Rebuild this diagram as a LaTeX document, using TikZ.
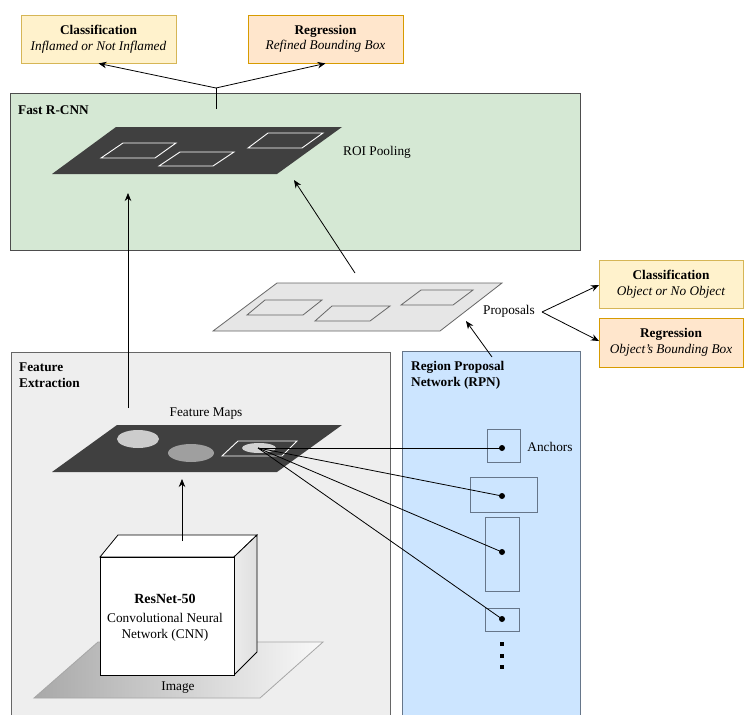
\documentclass[tikz,border=0pt]{standalone}
\usepackage{fontspec}
\setmainfont{Liberation Serif}
\usetikzlibrary{arrows.meta}
\definecolor{clsfill}{HTML}{FFF2CC}
\definecolor{clsdraw}{HTML}{D6B656}
\definecolor{regfill}{HTML}{FFE6CC}
\definecolor{regdraw}{HTML}{D79B00}
\definecolor{fastfill}{HTML}{D5E8D4}
\definecolor{fastdraw}{HTML}{4D4D4D}
\definecolor{featfill}{HTML}{EEEEEE}
\definecolor{featdraw}{HTML}{666666}
\definecolor{rpnfill}{HTML}{CCE5FF}
\definecolor{rpndraw}{HTML}{66768A}
\definecolor{darkmap}{HTML}{404040}
\definecolor{propfill}{HTML}{E6E6E6}
\tikzset{
  txt/.style={font=\fontsize{13.3}{16}\selectfont, inner sep=0pt, align=center},
  ttl/.style={font=\fontsize{13.3}{16}\selectfont\bfseries, inner sep=0pt, align=left, anchor=west},
  outbox/.style={draw=#1, line width=0.8pt, minimum width=155pt, minimum height=48pt, inner sep=0pt, align=center, font=\fontsize{13.3}{15.5}\selectfont},
  arr/.style={-{Stealth[length=8pt,width=6.5pt]}, line width=0.8pt},
  ln/.style={line width=0.8pt},
  anchorbox/.style={draw=rpndraw, line width=0.8pt, inner sep=0pt},
  dotn/.style={circle, fill=black, inner sep=0pt, minimum size=6pt},
  smalldot/.style={rectangle, fill=black, inner sep=0pt, minimum size=3.5pt},
}
\begin{document}
\begin{tikzpicture}[x=1pt,y=-1pt]
\useasboundingbox (0,0) rectangle (745,715);
\fill[white] (0,0) rectangle (745,715);

% ---------- containers ----------
\node[draw=fastdraw, fill=fastfill, line width=0.8pt, minimum width=570pt, minimum height=157pt, inner sep=0pt] (fast) at (295,171.5) {};
\fill[featfill] (11,352) rectangle (390,715);
\draw[featdraw, line width=0.8pt] (11,715) -- (11,352) -- (390,352) -- (390,715);
\fill[rpnfill] (402,351) rectangle (580,715);
\draw[rpndraw, line width=0.8pt] (402,715) -- (402,351) -- (580,351) -- (580,715);

\node[ttl] (fasttitle) at (18,110) {Fast R-CNN};
\node[ttl] (feattitle) at (19,375) {Feature\\Extraction};
\node[ttl] (rpntitle) at (411,375) {Region Proposal\\Network (RPN)};

% ---------- output boxes (top) ----------
\node[outbox=clsdraw, fill=clsfill] (cls1) at (98.5,39) {\textbf{Classification}\\\textit{Inflamed or Not Inflamed}};
\node[outbox=regdraw, fill=regfill] (reg1) at (325.5,39) {\textbf{Regression}\\\textit{Refined Bounding Box}};
\coordinate (J) at (216,88);
\coordinate (Jbot) at (216,109);
\draw[ln] (Jbot) -- (J);
\draw[arr] (J) -- (cls1.south);
\draw[arr] (J) -- (reg1.south);

% ---------- ROI pooling map ----------
\fill[darkmap] (52,174) -- (116,127) -- (342,127) -- (277,174) -- cycle;
\draw[white, line width=0.9pt] (101,158) -- (123,143) -- (176,143) -- (155,158) -- cycle;
\draw[white, line width=0.9pt] (159,166) -- (180,152) -- (234,152) -- (213,166) -- cycle;
\draw[white, line width=0.9pt] (248,148) -- (268,133) -- (323,133) -- (302,148) -- cycle;
\node[txt] (roi) at (377,152) {ROI Pooling};
\coordinate (roiin) at (294,180);
\coordinate (fmaptop) at (128,193);

% ---------- proposals ----------
\filldraw[fill=propfill, draw=featdraw, line width=0.8pt] (213,331) -- (277,283) -- (502,283) -- (440,331) -- cycle;
\draw[featdraw, line width=0.8pt] (247,315) -- (265,300) -- (322,300) -- (303,315) -- cycle;
\draw[featdraw, line width=0.8pt] (315,321) -- (332,306) -- (390,306) -- (370,321) -- cycle;
\draw[featdraw, line width=0.8pt] (401,305) -- (421,290) -- (473,290) -- (453,305) -- cycle;
\node[txt] (prop) at (509,311) {Proposals};
\coordinate (propout) at (355,273);
\coordinate (propin) at (466,321);
\coordinate (fork) at (542,312);
\draw[arr] (propout) -- (roiin);

% ---------- output boxes (right) ----------
\node[outbox=clsdraw, fill=clsfill, minimum width=144pt] (cls2) at (671,284) {\textbf{Classification}\\\textit{Object or No Object}};
\node[outbox=regdraw, fill=regfill, minimum width=144pt, minimum height=49pt] (reg2) at (671,342.5) {\textbf{Regression}\\\textit{Object's Bounding Box}};
\draw[arr] (fork) -- (599,285);
\draw[arr] (fork) -- (599,341);

% RPN -> proposals
\coordinate (rpnout) at (492,357);
\draw[arr] (rpnout) -- (propin);

% ---------- feature maps ----------
\node[txt] (fmlabel) at (206,414) {Feature Maps};
\fill[darkmap] (52,472) -- (117,425) -- (342,425) -- (277,472) -- cycle;
\fill[gray!40] (138,439) ellipse [x radius=21, y radius=9];
\fill[gray!75] (191,453) ellipse [x radius=23, y radius=9];
\draw[white, line width=0.9pt] (222,456) -- (238,441) -- (297,441) -- (282,456) -- cycle;
\fill[gray!35] (259,448) ellipse [x radius=17, y radius=5];
\coordinate (S) at (258,448);
\coordinate (fmapbot) at (128,408);
\coordinate (fmapin) at (182,479);
\draw[arr] (fmapbot) -- (fmaptop);

% ---------- anchors ----------
\node[anchorbox, minimum width=33pt, minimum height=33pt] (a1) at (503.5,445.5) {};
\node[anchorbox, minimum width=67pt, minimum height=35pt] (a2) at (503.5,494.5) {};
\node[anchorbox, minimum width=34pt, minimum height=74pt] (a3) at (502,554) {};
\node[anchorbox, minimum width=34pt, minimum height=23pt] (a4) at (502,619.5) {};
\node[dotn] (d1) at (502,448) {};
\node[dotn] (d2) at (502,496) {};
\node[dotn] (d3) at (502,552) {};
\node[dotn] (d4) at (502,619) {};
\node[txt] (anch) at (550,447) {Anchors};
\draw[ln] (S) -- (d1.center);
\draw[ln] (S) -- (d2.center);
\draw[ln] (S) -- (d3.center);
\draw[ln] (S) -- (d4.center);
\node[smalldot] (e1) at (502,644) {};
\node[smalldot] (e2) at (502,656) {};
\node[smalldot] (e3) at (502,667) {};

% ---------- image + CNN cube ----------
\shade[left color=gray!68, right color=gray!5] (34,698) -- (98,642) -- (323,642) -- (260,698) -- cycle;
\draw[gray!70, line width=0.8pt] (34,698) -- (98,642) -- (323,642) -- (260,698) -- cycle;
\node[txt] (img) at (178,688) {Image};
\filldraw[fill=white, draw=black, line width=0.8pt] (100,557) -- (118,535) -- (257,535) -- (234,557) -- cycle;
\shade[left color=gray!15, right color=gray!25] (234,557) -- (257,535) -- (257,652) -- (234,675) -- cycle;
\draw[black, line width=0.8pt] (234,557) -- (257,535) -- (257,652) -- (234,675) -- cycle;
\node[draw=black, fill=white, line width=0.8pt, minimum width=134pt, minimum height=118pt, inner sep=0pt] (cnn) at (167,616) {};
\node[txt, font=\fontsize{14}{16}\selectfont\bfseries] (cnntitle) at (165,599) {ResNet-50};
\node[txt] (cnntext) at (165,627.5) {Convolutional Neural\\Network (CNN)};
\coordinate (cnnout) at (182,541);
\draw[arr] (cnnout) -- (fmapin);
\end{tikzpicture}
\end{document}
